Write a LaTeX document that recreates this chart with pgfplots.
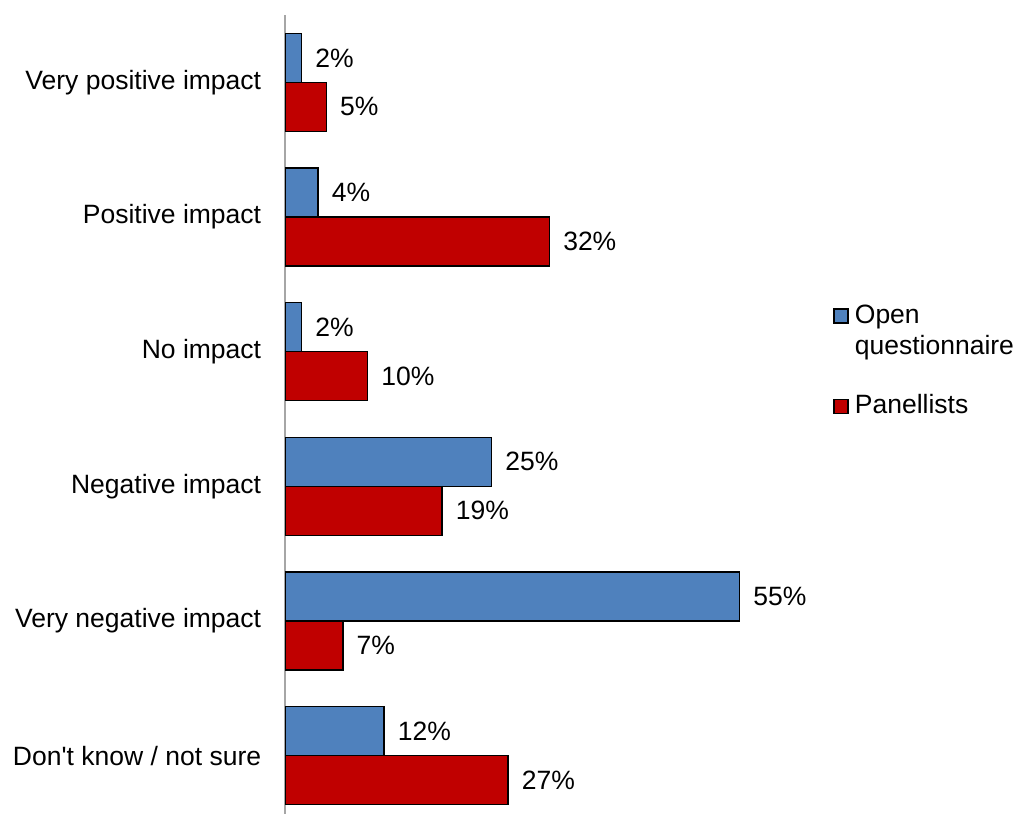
\documentclass[border=0pt]{standalone}
\usepackage{fontspec}
\setmainfont{Liberation Sans}
\usepackage{pgfplots}
\pgfplotsset{compat=1.18}
\definecolor{qblue}{HTML}{4F81BD}
\definecolor{pred}{HTML}{C00000}
\begin{document}
\fontsize{13.25bp}{15.5bp}\selectfont
\begin{tikzpicture}
\path[use as bounding box] (0,0) rectangle (507bp,407bp);
\begin{axis}[
  at={(142.5bp,-4.5bp)}, anchor=south west,
  scale only axis, width=248bp, height=404bp,
  xbar, xmin=0, xmax=60,
  ymin=-0.5, ymax=5.5, y dir=reverse,
  ytick={0,1,2,3,4,5},
  yticklabels={Very positive impact, Positive impact, No impact, Negative impact, Very negative impact, Don\textquotesingle t know / not sure},
  ytick style={draw=none},
  xtick=\empty,
  axis x line=none,
  axis y line*=left,
  y axis line style={draw=black!35, line width=1bp},
  yticklabel style={inner sep=0pt, xshift=-7.5bp, font=\fontsize{13.25bp}{15.5bp}\selectfont},
  bar width=24.5bp,
  point meta=x,
  /pgf/number format/assume math mode=true,
  nodes near coords={\pgfmathprintnumber{\pgfplotspointmeta}\%},
  nodes near coords style={anchor=west, inner sep=0pt, xshift=6.5bp, font=\fontsize{13.25bp}{15.5bp}\selectfont, text=black},
  legend style={draw=none, fill=none, at={(1,0.642)}, anchor=north west, xshift=26bp,
    font=\fontsize{13.25bp}{15.5bp}\selectfont,
    cells={anchor=base west}, row sep=33.5bp, column sep=0pt, inner sep=0pt,
    nodes={inner sep=0pt}},
  legend image code/.code={\draw[#1] (0bp,0bp) rectangle (7bp,7bp);},
]
\addplot[fill=qblue, draw=black, line width=0.75bp, bar shift=12.25bp] coordinates {
(2,0) (4,1) (2,2) (25,3) (55,4) (12,5)};
\addlegendentry{\hspace{3bp}\vtop{\hbox{Open}\hbox{questionnaire}}}
\addplot[fill=pred, draw=black, line width=0.75bp, bar shift=-12.25bp] coordinates {
(5,0) (32,1) (10,2) (19,3) (7,4) (27,5)};
\addlegendentry{\hspace{3bp}Panellists}
\end{axis}
\end{tikzpicture}
\end{document}
